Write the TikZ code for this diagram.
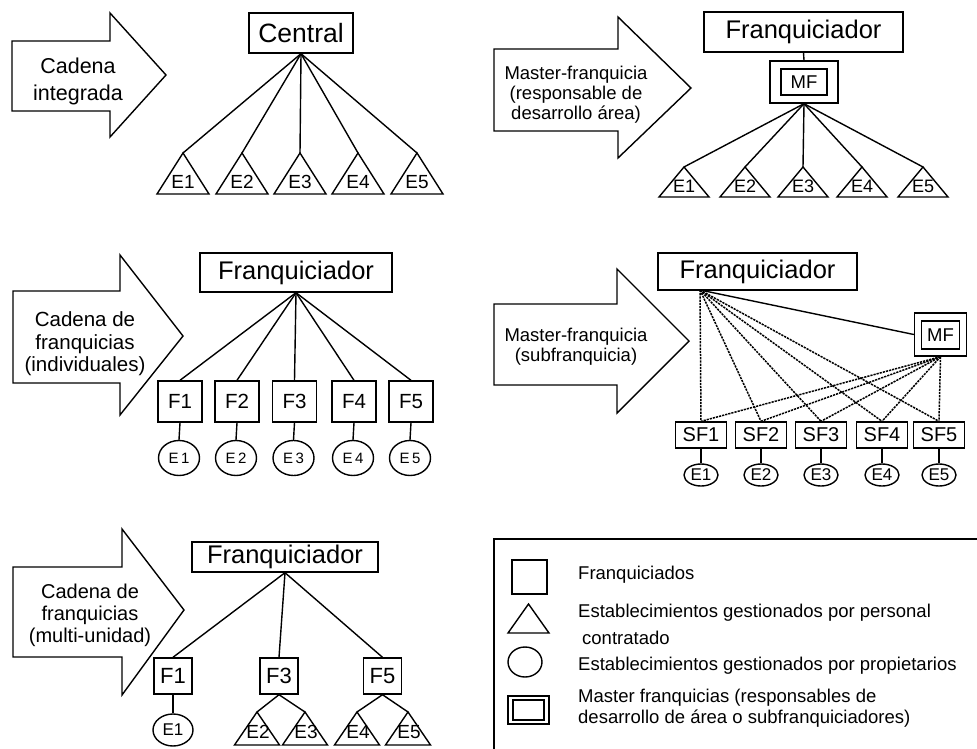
\documentclass[tikz,border=0pt]{standalone}
\usepackage{fontspec}
\setmainfont{Liberation Sans}
\usetikzlibrary{shapes.geometric,positioning}

\tikzset{
  boxnode/.style={draw, line width=1.4pt, inner sep=0pt, fill=white},
  franq/.style={boxnode, font=\fontsize{25.5}{28}\selectfont},
  fbox/.style={boxnode, minimum width=44pt, minimum height=41pt, font=\fontsize{20.5}{22}\selectfont},
  sfbox/.style={boxnode, minimum width=51pt, minimum height=26pt, font=\fontsize{20}{22}\selectfont},
  mfin/.style={boxnode, font=\fontsize{18.5}{20}\selectfont},
  mfout/.style={draw, line width=1.4pt, inner sep=0pt},
  estab/.style={draw, line width=1.4pt, ellipse, inner sep=0pt},
  trilabel/.style={inner sep=0pt, font=\fontsize{19}{20}\selectfont},
  triedge/.style={line width=1.4pt, line join=miter},
  conn/.style={line width=1.4pt},
  subconn/.style={line width=1.5pt, dash pattern=on 2.2pt off 1pt},
  bigarrow/.style={draw, line width=1.4pt, fill=white, line join=miter},
  arrowtext/.style={align=center, inner sep=0pt},
  legtext/.style={anchor=west, inner sep=0pt, font=\fontsize{18.5}{20}\selectfont}
}

\begin{document}
\begin{tikzpicture}[x=1pt, y=-1pt]
  \useasboundingbox (0,0) rectangle (977,749);
  \clip (0,0) rectangle (977,749);

  % --- panel 1: cadena integrada ---
  \draw[bigarrow] (12,41) -- (110,41) -- (110,13) -- (166,75) -- (110,137) -- (110,111) -- (12,111) -- cycle;
  \node[arrowtext, font=\fontsize{21.5}{27}\selectfont] (lab1) at (78,81) {Cadena\\integrada};
  \node[franq, minimum width=104pt, minimum height=40pt, font=\fontsize{26.5}{28}\selectfont] (central) at (301,33) {Central};
  \foreach \i/\x in {1/183,2/242,3/300,4/358,5/417}{
    \coordinate (pa\i) at (\x,153);
    \draw[triedge] (pa\i) -- ++(-26,41) -- ++(52,0) -- cycle;
    \node[trilabel] (ea\i) at (\x,182) {E\i};
    \draw[conn] (central.south) -- (pa\i);
  }

  % --- panel 2: master-franquicia (desarrollo de area) ---
  \draw[bigarrow] (494,49) -- (618,49) -- (618,17) -- (691,88) -- (618,158) -- (618,131) -- (494,131) -- cycle;
  \node[arrowtext, font=\fontsize{18.5}{20}\selectfont] (lab2) at (576,95) {Master-franquicia\\(responsable de\\desarrollo área)};
  \node[franq, minimum width=199pt, minimum height=40pt] (fr2) at (803.5,32) {Franquiciador};
  \node[mfin, minimum width=46pt, minimum height=26pt] (mf2in) at (804,82) {MF};
  \node[mfout, minimum width=68pt, minimum height=42pt] (mf2) at (804,82) {};
  \draw[conn] (fr2.south) -- (mf2.north);
  \foreach \i/\x in {1/684,2/745,3/803,4/862,5/923}{
    \coordinate (pb\i) at (\x,167);
    \draw[triedge] (pb\i) -- ++(-25,30) -- ++(50,0) -- cycle;
    \node[trilabel, font=\fontsize{18}{18}\selectfont] (eb\i) at (\x,186) {E\i};
    \draw[conn] (mf2.south) -- (pb\i);
  }

  % --- panel 3: cadena de franquicias (individuales) ---
  \draw[bigarrow] (13,291) -- (120,291) -- (120,255) -- (183,336) -- (120,415) -- (120,383) -- (13,383) -- cycle;
  \node[arrowtext, font=\fontsize{20.5}{22.5}\selectfont] (lab3) at (85,344) {Cadena de\\franquicias\\(individuales)};
  \node[franq, minimum width=192pt, minimum height=39pt] (fr3) at (296,272.5) {Franquiciador};
  \foreach \i/\x in {1/180,2/237,3/294.5,4/354,5/411}{
    \node[fbox] (fc\i) at (\x,401.5) {F\i};
    \node[estab, minimum width=41pt, minimum height=35pt, font=\fontsize{15}{16}\selectfont] (ec\i) at (\x-1,458) {E\,\i};
    \draw[conn] (fr3.south) -- (fc\i.north);
    \draw[conn] (fc\i.south) -- (ec\i.north);
  }

  % --- panel 4: master-franquicia (subfranquicia) ---
  \draw[bigarrow] (494,304) -- (617,304) -- (617,269) -- (689,341) -- (617,413) -- (617,385) -- (494,385) -- cycle;
  \node[arrowtext, font=\fontsize{18.5}{20}\selectfont] (lab4) at (576,347) {Master-franquicia\\(subfranquicia)};
  \node[franq, minimum width=199pt, minimum height=37pt] (fr4) at (757.5,271.5) {Franquiciador};
  \coordinate (r4) at (700,290);
  \node[mfin, minimum width=38pt, minimum height=28pt] (mf4in) at (940.5,335) {MF};
  \node[mfout, minimum width=52pt, minimum height=43pt] (mf4) at (940.5,334.5) {};
  \draw[conn] (r4) -- (mf4.west);
  \foreach \i/\x in {1/701,2/761,3/821,4/882,5/939}{
    \node[sfbox] (sf\i) at (\x,435) {SF\i};
    \node[estab, minimum width=34pt, minimum height=22pt, font=\fontsize{17}{18}\selectfont] (ed\i) at (\x,475) {E\i};
    \draw[subconn] (r4) -- (sf\i.north);
    \draw[subconn] (mf4.south) -- (sf\i.north);
    \draw[conn] (sf\i.south) -- (ed\i.north);
  }

  % --- panel 5: cadena de franquicias (multi-unidad) ---
  \draw[bigarrow] (13,567) -- (122,567) -- (122,529) -- (184,610) -- (122,695) -- (122,657) -- (13,657) -- cycle;
  \node[arrowtext, font=\fontsize{20}{22}\selectfont] (lab5) at (90,615) {Cadena de\\franquicias\\(multi-unidad)};
  \node[franq, minimum width=186pt, minimum height=30pt] (fr5) at (285,557) {Franquiciador};
  \node[fbox, minimum width=38pt, minimum height=36pt, font=\fontsize{22}{24}\selectfont] (fe1) at (173,676) {F1};
  \node[fbox, minimum width=38pt, minimum height=36pt, font=\fontsize{22}{24}\selectfont] (fe3) at (279,676) {F3};
  \node[fbox, minimum width=38pt, minimum height=36pt, font=\fontsize{22}{24}\selectfont] (fe5) at (382.5,676) {F5};
  \node[estab, minimum width=40pt, minimum height=32pt, font=\fontsize{17}{18}\selectfont] (ee1) at (173,730) {E1};
  \foreach \f in {1,3,5}{
    \draw[conn] (fr5.south) -- (fe\f.north);
  }
  \draw[conn] (fe1.south) -- (ee1.north);
  \foreach \i/\x/\f in {2/257/3,3/305/3,4/357/5,5/408/5}{
    \coordinate (pe\i) at (\x,712);
    \draw[triedge] (pe\i) -- ++(-22.5,33) -- ++(45,0) -- cycle;
    \node[trilabel] (ef\i) at (\x+1,732) {E\i};
    \draw[conn] (fe\f.south) -- (pe\i);
  }

  % --- legend ---
  \draw[line width=1.4pt] (494,780) -- (494,539) -- (1000,539);
  \node[boxnode, minimum width=35pt, minimum height=34pt] (lsq) at (529.5,577) {};
  \draw[triedge] (528.5,604) -- (549,633) -- (508,633) -- cycle;
  \node[estab, minimum width=34pt, minimum height=30pt] (lcirc) at (525,662) {};
  \node[mfout, minimum width=31pt, minimum height=20pt] (lmfin) at (528.5,710) {};
  \node[mfout, minimum width=41pt, minimum height=28pt] (lmf) at (528.5,710) {};
  \node[legtext] (t1) at (578,575) {Franquiciados};
  \node[legtext] (t2) at (578,613) {Establecimientos gestionados por personal};
  \node[legtext] (t2b) at (582,638) {contratado};
  \node[legtext] (t3) at (578,666) {Establecimientos gestionados por propietarios};
  \node[legtext] (t4) at (578,698) {Master franquicias (responsables de};
  \node[legtext] (t4b) at (578,719) {desarrollo de área o subfranquiciadores)};
\end{tikzpicture}
\end{document}
